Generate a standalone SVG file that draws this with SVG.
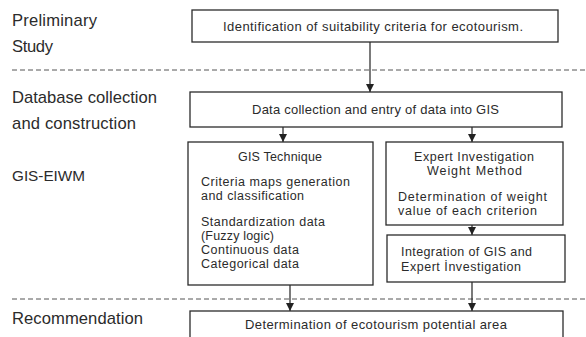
<svg xmlns="http://www.w3.org/2000/svg" width="586" height="337" viewBox="0 0 586 337">
<style>
text{font-family:"Liberation Sans",Arial,sans-serif;fill:#2b2b2b}
.lab{font-size:16.6px}
.bx{font-size:13px}
.in{font-size:12.5px}
.box{fill:#fff;stroke:#2b2b2b;stroke-width:1.3}
.dash{stroke:#555;stroke-width:1;stroke-dasharray:5,3;fill:none}
.con{stroke:#222;stroke-width:1.2;fill:none;marker-end:url(#ah)}
</style>
<defs>
<marker id="ah" viewBox="0 0 10 10" refX="10" refY="5" markerWidth="8" markerHeight="8" markerUnits="userSpaceOnUse" orient="auto">
<path d="M0,0 L10,5 L0,10 z" fill="#222"/>
</marker>
</defs>
<rect width="586" height="337" fill="#fff"/>
<g id="labels">
<text class="lab" x="12" y="26" textLength="85" lengthAdjust="spacing">Preliminary</text>
<text class="lab" x="12" y="52" textLength="41" lengthAdjust="spacing">Study</text>
<text class="lab" x="12" y="103" textLength="145" lengthAdjust="spacing">Database collection</text>
<text class="lab" x="12" y="129" textLength="124" lengthAdjust="spacing">and construction</text>
<text class="lab" x="12" y="181" style="font-size:15.3px" textLength="73" lengthAdjust="spacing">GIS-EIWM</text>
<text class="lab" x="12" y="324" textLength="131" lengthAdjust="spacing">Recommendation</text>
</g>
<g id="separators">
<line class="dash" x1="12" y1="70" x2="586" y2="70"/>
<line class="dash" x1="12" y1="299" x2="586" y2="299"/>
</g>
<g id="connectors">
<line class="con" x1="370" y1="42" x2="370" y2="92"/>
<line class="con" x1="283" y1="127" x2="283" y2="142"/>
<line class="con" x1="472" y1="127" x2="472" y2="142"/>
<line class="con" x1="472" y1="225" x2="472" y2="235"/>
<line class="con" x1="290" y1="285" x2="290" y2="311"/>
<line class="con" x1="472" y1="282" x2="472" y2="311"/>
</g>
<g id="n1">
<rect class="box" x="192" y="10" width="366" height="32"/>
<text class="bx" x="223" y="31" textLength="300" lengthAdjust="spacing">Identification of suitability criteria for ecotourism.</text>
</g>
<g id="n2">
<rect class="box" x="190" y="92" width="372" height="35"/>
<text class="bx" x="252" y="114" textLength="247" lengthAdjust="spacing">Data collection and entry of data into GIS</text>
</g>
<g id="n3">
<rect class="box" x="188" y="142" width="185" height="143"/>
<text class="in" x="238" y="161" textLength="84" lengthAdjust="spacing">GIS Technique</text>
<text class="in" x="201" y="186" textLength="149" lengthAdjust="spacing">Criteria maps generation</text>
<text class="in" x="201" y="200" textLength="103" lengthAdjust="spacing">and classification</text>
<text class="in" x="201" y="226" textLength="124" lengthAdjust="spacing">Standardization data</text>
<text class="in" x="201" y="240" textLength="73" lengthAdjust="spacing">(Fuzzy logic)</text>
<text class="in" x="201" y="254" textLength="98" lengthAdjust="spacing">Continuous data</text>
<text class="in" x="201" y="268" textLength="98" lengthAdjust="spacing">Categorical data</text>
</g>
<g id="n4">
<rect class="box" x="386" y="142" width="177" height="83"/>
<text class="in" x="414" y="161" textLength="120" lengthAdjust="spacing">Expert Investigation</text>
<text class="in" x="427" y="175" textLength="95" lengthAdjust="spacing">Weight Method</text>
<text class="in" x="398" y="201" textLength="149" lengthAdjust="spacing">Determination of weight</text>
<text class="in" x="398" y="215" textLength="139" lengthAdjust="spacing">value of each criterion</text>
</g>
<g id="n5">
<rect class="box" x="387" y="235" width="178" height="47"/>
<text class="in" x="401" y="256" textLength="131" lengthAdjust="spacing">Integration of GIS and</text>
<text class="in" x="401" y="271" textLength="120" lengthAdjust="spacing">Expert İnvestigation</text>
</g>
<g id="n6">
<rect class="box" x="190" y="311" width="373" height="40"/>
<text class="bx" x="245" y="329" textLength="262" lengthAdjust="spacing">Determination of ecotourism potential area</text>
</g>
</svg>
